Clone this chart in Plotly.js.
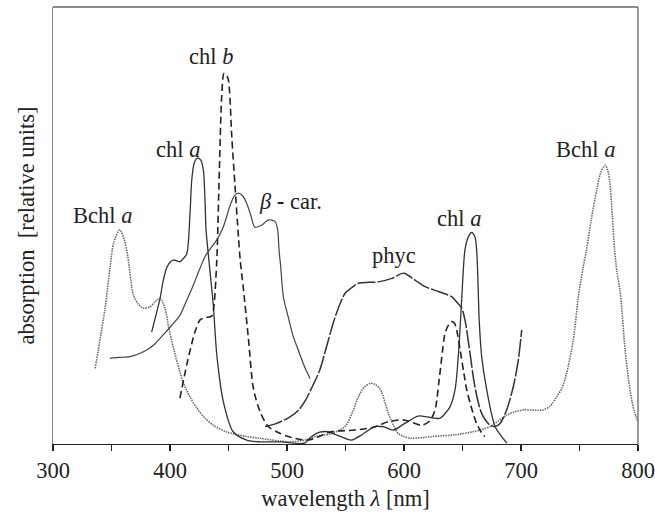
<!DOCTYPE html>
<html>
<head>
<meta charset="utf-8">
<script src="https://cdn.plot.ly/plotly-3.0.1.min.js"></script>
<style>
  html, body { margin: 0; padding: 0; background: #fff; }
  #chart { width: 655px; height: 517px; }
</style>
</head>
<body>
<div id="chart"></div>
<script>
// Absorption spectra of photosynthetic pigments (relative units)

// Bacteriochlorophyll a
const bchlWl  = [336, 344.5, 348.7, 352, 357, 361, 364, 368.7, 373, 377, 383, 387, 391.5, 395.7, 399, 403, 411, 417, 423, 430, 437, 448, 465.5, 477, 501, 515, 524, 538, 549.6, 556, 561, 566, 571.5, 576, 580, 586.6, 591, 595, 600, 606.6, 623.7, 643.6, 659, 673.5, 687.7, 695, 702, 719, 725, 730.5, 735, 739, 744.7, 749, 753, 756, 760, 764.7, 768, 771.8, 774, 776, 778, 780, 782, 784.6, 786, 789, 792, 794.6, 797, 800];
const bchlAbs = [17.3, 31.1, 40.3, 46.2, 49.0, 46.7, 42.8, 34.1, 32.0, 31.1, 31.4, 32.5, 33.3, 31.1, 26.5, 21.9, 14.3, 10.8, 8.2, 5.9, 4.3, 2.8, 1.7, 1.3, 0.5, 0.9, 1.7, 2.4, 4.0, 7.3, 10.8, 13.0, 13.9, 13.5, 12.4, 7.0, 4.3, 2.4, 1.7, 1.3, 1.7, 2.1, 2.8, 4.0, 6.6, 7.4, 7.8, 7.8, 8.7, 10.8, 12.8, 16.2, 23.8, 33.6, 40.3, 44.4, 51.3, 58.1, 62.0, 63.8, 62.7, 59.7, 52.4, 44.4, 39.4, 35.2, 31.4, 21.5, 14.6, 10.1, 7.3, 5.1];

// Chlorophyll a
const chlaWl  = [384.3, 388, 391.5, 394, 397, 400, 403, 406, 408.5, 411, 414.3, 417.1, 418.6, 420.6, 423.4, 426.2, 428.5, 430, 430.8, 432.8, 437, 440, 445.6, 454, 465.5, 477, 495, 515, 521, 528, 535, 545, 555, 565, 575, 583, 591, 600, 612, 620, 626.5, 630.8, 639.3, 643.6, 646.4, 649.3, 652.1, 655, 657.8, 660.6, 662.1, 664.4, 666.4, 670.7, 677.8, 683.5, 688];
const chlaAbs = [25.6, 29.5, 33.3, 37.1, 40.2, 41.6, 42.1, 41.9, 41.7, 42.3, 43.5, 52.8, 60.4, 64.2, 65.4, 65.0, 62.7, 55.1, 49.0, 43.2, 31.8, 20.4, 9.7, 2.8, 0.9, 0.5, 0.5, 0.2, 1.7, 2.7, 2.8, 1.8, 0.9, 2.3, 4.0, 3.9, 3.2, 4.6, 6.4, 6.2, 5.9, 5.9, 8.5, 12.4, 20.0, 33.0, 44.4, 47.4, 48.4, 47.4, 44.4, 27.6, 20.0, 12.4, 4.0, 1.7, 0.2];

// Chlorophyll b
const chlbWl  = [408.5, 414.3, 421.4, 425.7, 430, 435.7, 437.5, 440, 442.2, 444.2, 446.2, 448, 449.9, 452.8, 455.6, 458.5, 460, 462.7, 467, 471.3, 477, 484, 492, 501, 518, 538, 558, 575, 586.6, 600, 615, 622, 626.5, 630, 633, 635, 638, 640.7, 643, 645, 648, 651, 653.6, 657, 662, 666, 669];
const chlbAbs = [10.5, 18.1, 25.7, 28.4, 28.9, 29.3, 31.5, 42.1, 62.7, 79.5, 84.8, 84.6, 83.3, 70.3, 58.9, 47.4, 42.1, 35.6, 24.2, 12.7, 7.4, 4.0, 2.7, 1.7, 0.9, 2.8, 3.2, 3.9, 5.1, 5.5, 4.3, 5.3, 7.8, 14.6, 21.5, 25.3, 27.2, 28.0, 27.7, 26.1, 21.5, 16.5, 12.4, 8.9, 4.7, 2.7, 1.7];

// beta-carotene
const carWl  = [348.7, 356, 365.8, 373, 380, 387, 394, 401, 408.6, 414, 420, 425, 430, 435, 440, 445.6, 451, 455, 458.4, 462, 465.5, 469, 472.6, 478.5, 484.1, 489.8, 492, 493.2, 494.6, 496.9, 501, 505, 509.6, 515, 519.7];
const carAbs = [19.6, 19.8, 20.0, 20.6, 21.5, 22.9, 24.9, 27.0, 29.5, 32.7, 36.4, 39.8, 42.9, 44.9, 46.7, 49.7, 54.3, 56.8, 57.4, 56.8, 55.1, 52.4, 49.6, 50.1, 51.3, 50.9, 49.0, 44.4, 40.6, 33.7, 29.1, 24.9, 21.5, 17.7, 15.0];

// Phycocyanin
const phycWl  = [481.2, 490, 502.6, 510, 516, 521, 528, 532.6, 541.2, 549.7, 555, 561.1, 570, 578.2, 589.6, 599.7, 609.4, 618, 629.4, 640.8, 645, 649.3, 652.1, 656.4, 660.6, 666.4, 673.5, 677.8, 682.1, 687.7, 693.4, 697.7, 700.6];
const phycAbs = [4.0, 4.6, 6.2, 7.8, 10.1, 12.8, 16.9, 21.1, 29.1, 34.5, 35.7, 36.8, 37.0, 37.1, 37.9, 39.1, 37.5, 36.0, 34.9, 33.7, 32.5, 31.1, 28.4, 20.8, 13.1, 7.0, 4.3, 4.0, 4.7, 7.8, 13.1, 19.2, 26.1];

// x-axis ticks every 50 nm, labelled every 100 nm
const tickVals = [300, 350, 400, 450, 500, 550, 600, 650, 700, 750, 800];
const tickText = ['300', '', '400', '', '500', '', '600', '', '700', '', '800'];

// Curve labels
const labelText = ['chl <i>b</i>', 'chl <i>a</i>', '<i>β</i> <b>-</b> car.', 'Bchl <i>a</i>', 'phyc', 'chl <i>a</i>', 'Bchl <i>a</i>'];
const labelX    = [435, 406.8, 502.6, 342.2, 591.5, 647, 754.7];
const labelY    = [88.6, 67.5, 55.6, 52.4, 43.2, 51.5, 67.3];

const serif = '"Liberation Serif", "Times New Roman", Times, serif';
const fontSize = 22.5;

const traces = [
  { x: bchlWl, y: bchlAbs, mode: 'lines', line: { color: '#6a6a6a', width: 1.6, dash: '1.5px,1px', shape: 'spline', smoothing: 0.8 } },
  { x: chlaWl, y: chlaAbs, mode: 'lines', line: { color: '#333', width: 1.3, shape: 'spline', smoothing: 0.8 } },
  { x: chlbWl, y: chlbAbs, mode: 'lines', line: { color: '#222', width: 1.6, dash: '7px,4px', shape: 'spline', smoothing: 0.8 } },
  { x: carWl, y: carAbs, mode: 'lines', line: { color: '#444', width: 1.2, shape: 'spline', smoothing: 0.8 } },
  { x: phycWl, y: phycAbs, mode: 'lines', line: { color: '#333', width: 1.5, dash: '18px,2px', shape: 'spline', smoothing: 0.8 } }
];

const annotations = labelText.map((t, i) => ({
  x: labelX[i], y: labelY[i], xref: 'x', yref: 'y',
  text: t, showarrow: false,
  font: { family: serif, size: fontSize, color: '#222' },
  xanchor: 'center', yanchor: 'middle'
}));

const layout = {
  width: 655, height: 517,
  margin: { l: 53, r: 17, t: 7, b: 73 },
  paper_bgcolor: '#fff', plot_bgcolor: '#fff',
  showlegend: false,
  font: { family: serif, size: fontSize, color: '#222' },
  xaxis: {
    range: [300, 800],
    tickvals: tickVals, ticktext: tickText,
    ticks: 'outside', ticklen: 6, tickwidth: 1.2, tickcolor: '#222',
    showline: true, linecolor: '#222', linewidth: 1.3,
    showgrid: false, zeroline: false,
    tickfont: { family: serif, size: fontSize, color: '#222' },
    title: { text: 'wavelength <i>λ</i> [nm]', font: { family: serif, size: fontSize, color: '#222' }, standoff: 8 }
  },
  yaxis: {
    range: [0, 100],
    showticklabels: false, ticks: '',
    showline: true, linecolor: '#888', linewidth: 1.3,
    showgrid: false, zeroline: false,
    title: { text: 'absorption  [relative units]', font: { family: serif, size: fontSize, color: '#222' }, standoff: 10 }
  },
  shapes: [
    { type: 'line', xref: 'paper', yref: 'paper', x0: 0, x1: 1, y0: 1, y1: 1, line: { color: '#666', width: 1.3 } },
    { type: 'line', xref: 'paper', yref: 'paper', x0: 1, x1: 1, y0: 0, y1: 1, line: { color: '#666', width: 1.3 } }
  ],
  annotations: annotations
};

Plotly.newPlot('chart', traces, layout, { displayModeBar: false, staticPlot: true });
</script>
</body>
</html>
